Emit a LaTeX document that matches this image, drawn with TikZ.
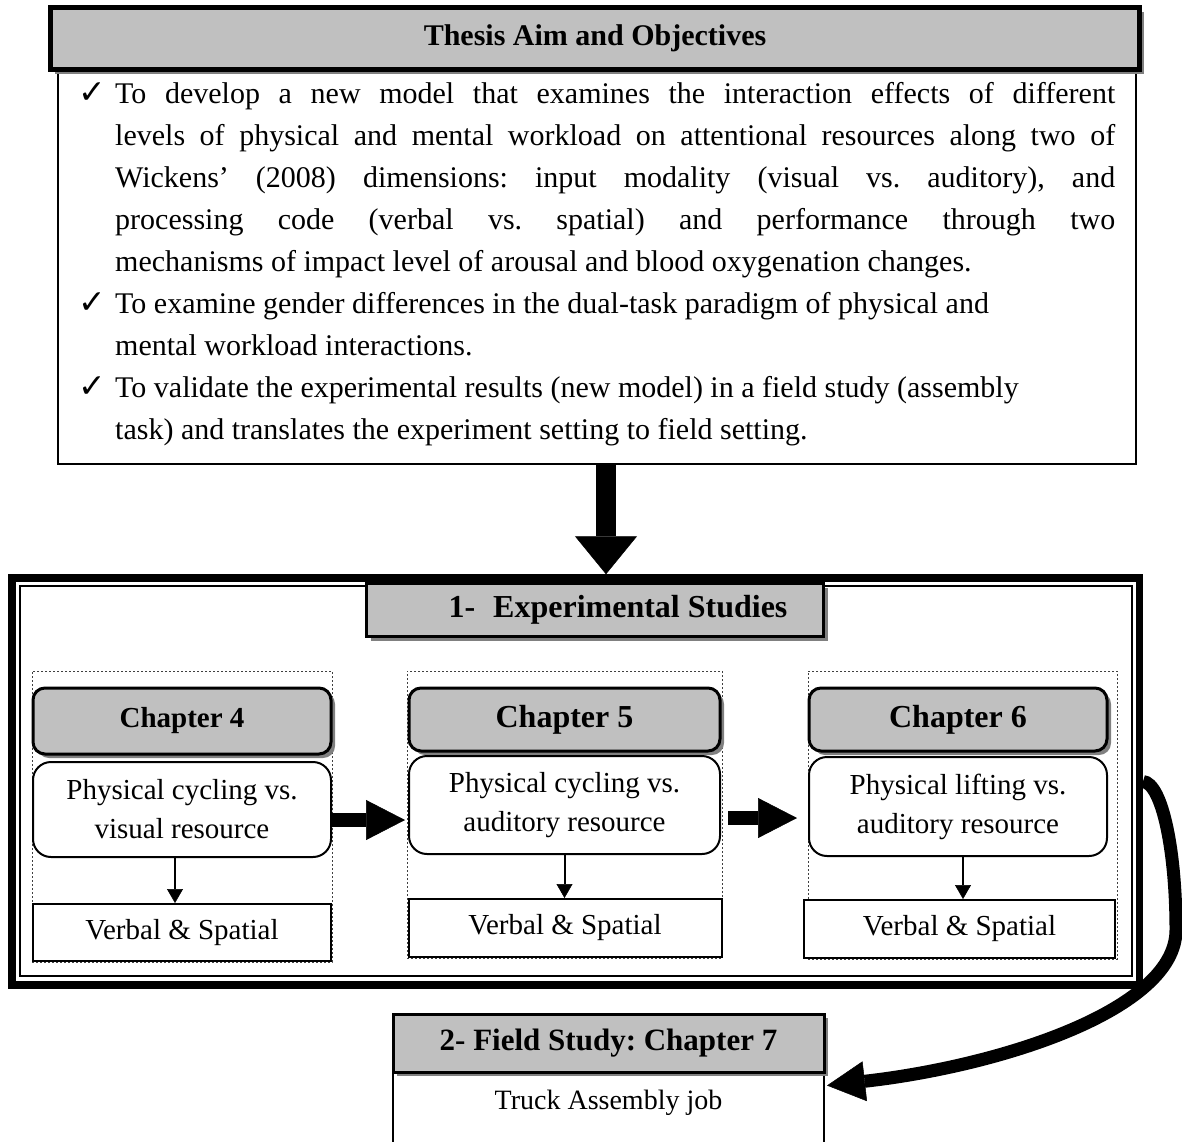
\documentclass[tikz,border=0pt]{standalone}
\usepackage{fontspec}
\setmainfont{Liberation Serif}
\newfontfamily\symfont{DejaVu Sans}
\usetikzlibrary{arrows.meta,shadows,calc}
\definecolor{hdrgray}{HTML}{C0C0C0}
\definecolor{shadegray}{HTML}{808080}
\frenchspacing

\tikzset{
  hdrbox/.style={draw, fill=hdrgray, inner sep=0pt,
    drop shadow={shadow xshift=4pt, shadow yshift=-4pt, fill=shadegray, opacity=1}},
  chbox/.style={hdrbox, rounded corners=12pt, line width=3pt,
    font=\bfseries\fontsize{32}{36}\selectfont},
  descbox/.style={draw, line width=2pt, rounded corners=18pt, fill=white,
    align=center, inner sep=0pt, font=\fontsize{29}{39}\selectfont},
  verbbox/.style={draw, line width=2pt, fill=white, inner sep=0pt,
    font=\fontsize{29}{35}\selectfont},
  grp/.style={draw=black!75, dash pattern=on 2pt off 2pt, line width=1pt, inner sep=0pt},
  objline/.style={anchor=base west, inner sep=0pt, font=\fontsize{30}{42}\selectfont},
  tick/.style={anchor=base west, inner sep=0pt, font=\symfont\fontsize{33}{33}\selectfont},
  smallarr/.style={line width=2pt, -{Triangle[length=14pt,width=16pt,line width=0.5pt]}},
  fatarr/.style={line width=14pt, -{Triangle[length=39pt,width=40pt,line width=0.5pt]}},
  downarr/.style={line width=20pt, -{Triangle[length=38pt,width=62pt,line width=0.5pt]}},
  curvarr/.style={line width=13pt, -{Triangle[length=38pt,width=40pt,line width=0.5pt]}},
}

\begin{document}
\begin{tikzpicture}[x=1pt,y=-1pt]
\useasboundingbox (0,0) rectangle (1182,1141);
\clip (0,0) rectangle (1182,1141);
\fill[white] (0,0) rectangle (1182,1141);

% ---- aim and objectives ----
\node[draw, line width=2pt, minimum width=1078pt, minimum height=393pt, inner sep=0pt] (aims) at (597,267.5) {};
\node[hdrbox, line width=5pt, minimum width=1089pt, minimum height=62pt,
      font=\bfseries\fontsize{30}{36}\selectfont] (title) at (595,38.5) {Thesis Aim and Objectives};

\node[tick] (c1) at (78,103) {✓};
\node[tick] (c2) at (78,313) {✓};
\node[tick] (c3) at (78,397) {✓};

\node[objline] (l1) at (115,103) {\makebox[1000pt][s]{To develop a new model that examines the interaction effects of different}};
\node[objline] (l2) at (115,145) {\makebox[1000pt][s]{levels of physical and mental workload on attentional resources along two of}};
\node[objline] (l3) at (115,187) {\makebox[1000pt][s]{Wickens’ (2008) dimensions: input modality (visual vs. auditory), and}};
\node[objline] (l4) at (115,229) {\makebox[1000pt][s]{processing code (verbal vs. spatial) and performance through two}};
\node[objline] (l5) at (115,271) {mechanisms of impact level of arousal and blood oxygenation changes.};
\node[objline] (l6) at (115,313) {To examine gender differences in the dual-task paradigm of physical and};
\node[objline] (l7) at (115,355) {mental workload interactions.};
\node[objline] (l8) at (115,397) {To validate the experimental results (new model) in a field study (assembly};
\node[objline] (l9) at (115,439) {task) and translates the experiment setting to field setting.};

% ---- experimental studies frame ----
\node[draw, line width=7.5pt, minimum width=1127.5pt, minimum height=407pt, inner sep=0pt] (frame) at (575.5,781.5) {};
\node[draw, line width=1.5pt, minimum width=1112pt, minimum height=390pt, inner sep=0pt] (frameinner) at (576,781) {};

\coordinate (ax) at (606,0);
\draw[downarr] (aims.south -| ax) -- (frame.north -| ax);

\node[hdrbox, line width=3pt, minimum width=457pt, minimum height=53pt,
      font=\bfseries\fontsize{32}{36}\selectfont] (exphdr) at (595,610)
      {\hspace*{46pt}1-\hspace{18pt}Experimental Studies};

% chapter groups
\node[grp, minimum width=300pt, minimum height=291pt] (g1) at (182,816.5) {};
\node[grp, minimum width=315pt, minimum height=287pt] (g2) at (564.5,814.5) {};
\node[grp, minimum width=309pt, minimum height=288pt] (g3) at (962.5,815) {};

\node[chbox, minimum width=298pt, minimum height=66pt, font=\bfseries\fontsize{29}{34}\selectfont] (ch4) at (182,721) {Chapter 4};
\node[chbox, minimum width=311pt, minimum height=63pt] (ch5) at (564.5,719.5) {Chapter 5};
\node[chbox, minimum width=298pt, minimum height=63pt] (ch6) at (958,719.5) {Chapter 6};

\node[descbox, minimum width=298pt, minimum height=95pt] (d1) at (182,809.5) {Physical cycling vs.\\visual resource};
\node[descbox, minimum width=311pt, minimum height=98pt] (d2) at (564.5,805) {Physical cycling vs.\\auditory resource};
\node[descbox, minimum width=298pt, minimum height=99pt] (d3) at (958,806.5) {Physical lifting vs.\\auditory resource};

\node[verbbox, minimum width=298pt, minimum height=57pt] (v1) at (182,932.5) {Verbal \& Spatial};
\node[verbbox, minimum width=313pt, minimum height=58pt] (v2) at (565,928) {Verbal \& Spatial};
\node[verbbox, minimum width=311pt, minimum height=58pt] (v3) at (959.5,929) {Verbal \& Spatial};

\draw[smallarr] ([xshift=-7pt]d1.south) -- ([xshift=-7pt]d1.south |- v1.north);
\draw[smallarr] (d2.south) -- (d2.south |- v2.north);
\draw[smallarr] ([xshift=5pt]d3.south) -- ([xshift=5pt]d3.south |- v3.north);

\coordinate (r1) at (0,820);
\coordinate (r2) at (0,818);
\draw[fatarr, shorten >=3pt] (d1.east |- r1) -- (d2.west |- r1);
\draw[fatarr, shorten <=7pt, shorten >=11pt] (d2.east |- r2) -- (d3.west |- r2);

% ---- field study ----
\node[draw, line width=2pt, minimum width=431pt, minimum height=87pt, inner sep=0pt] (truck) at (608.5,1116.5) {};
\node[hdrbox, line width=3pt, minimum width=431pt, minimum height=58pt,
      font=\bfseries\fontsize{31}{36}\selectfont] (fhdr) at (608.5,1043) {2- Field Study: Chapter 7};
\node[inner sep=0pt, font=\fontsize{28}{34}\selectfont] (trucktext) at (608.5,1103) {Truck Assembly job};

\coordinate (tipend) at ($(fhdr.south east)+(1.5,12)$);
\draw[curvarr] (frame.east) .. controls (1162,783) and (1176,850) .. (1176,930)
      .. controls (1176,1010) and (1000,1066) .. (tipend);
\end{tikzpicture}
\end{document}
